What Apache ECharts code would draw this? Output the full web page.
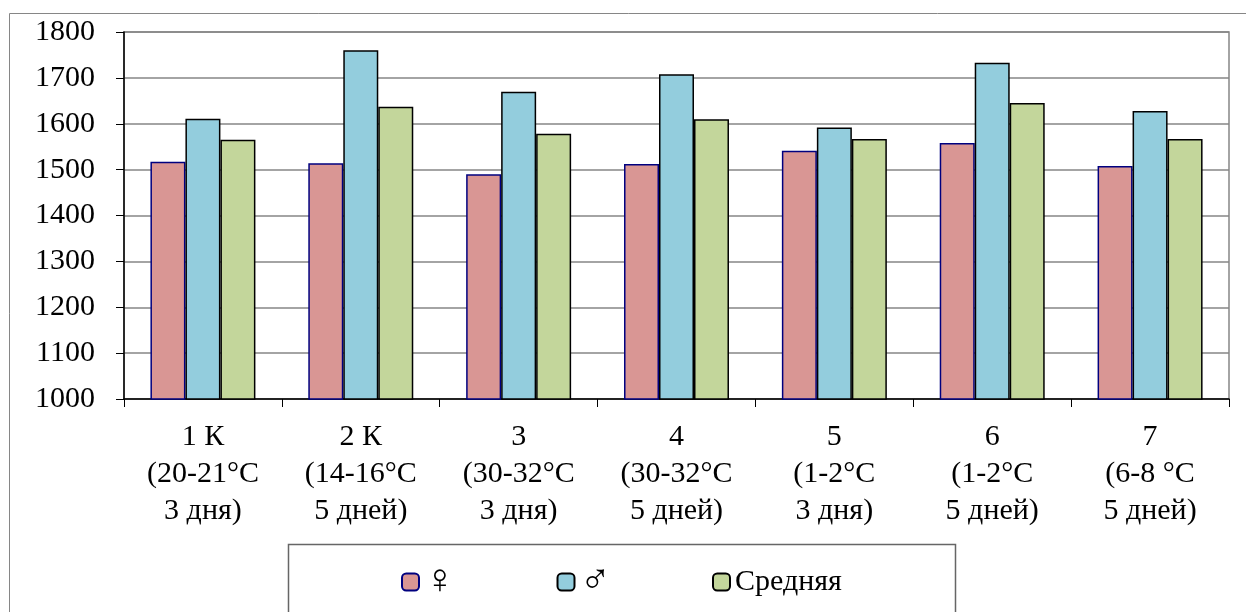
<!DOCTYPE html>
<html>
<head>
<meta charset="utf-8">
<script src="https://cdn.jsdelivr.net/npm/echarts@6/dist/echarts.min.js"></script>
<style>
  html, body { margin: 0; padding: 0; background: #ffffff; }
  #chart { width: 1246px; height: 612px; }
</style>
</head>
<body>
<div id="chart"></div>
<script>
// Groups of experiments (temperature regime and duration)
const categories = [
  '1 К\n(20-21°C\n3 дня)',
  '2 К\n(14-16°C\n5 дней)',
  '3\n(30-32°C\n3 дня)',
  '4\n(30-32°C\n5 дней)',
  '5\n(1-2°C\n3 дня)',
  '6\n(1-2°C\n5 дней)',
  '7\n(6-8 °C\n5 дней)'
];
// Values for females, males and the mean
const femaleValues = [1517, 1514, 1490, 1512, 1541, 1558, 1508];
const maleValues   = [1611, 1760, 1670, 1708, 1592, 1733, 1628];
const meanValues   = [1565, 1637, 1578, 1610, 1567, 1645, 1567];
const seriesNames  = ['♀', '♂', 'Средняя'];
const yTicks = { min: 1000, max: 1800, step: 100 };

const serifFont = 'Liberation Serif';
const symbolFont = 'DejaVu Sans ExtraLight';

// rich-text styles shared by all labels
const richStyles = {
  t: { fontFamily: serifFont, fontSize: 30, lineHeight: 37, color: '#000000' },
  sym: { fontFamily: symbolFont, fontSize: 42, lineHeight: 30, width: 22, color: '#000000' }
};
const wrapLines = s => String(s).split('\n').map(l => '{t|' + l + '}').join('\n');

const chart = echarts.init(document.getElementById('chart'), null, { renderer: 'canvas' });

const barStyle = (fill, stroke) => ({ color: fill, borderColor: stroke, borderWidth: 1.5 });

chart.setOption({
  backgroundColor: '#ffffff',
  animation: false,
  textStyle: { fontFamily: serifFont },
  graphic: [
    // outer chart frame
    { type: 'rect', shape: { x: 9.5, y: 13.5, width: 1240, height: 620 },
      style: { fill: 'none', stroke: '#868686', lineWidth: 1 }, z: -1 },
    // legend frame
    { type: 'rect', shape: { x: 288.5, y: 544.5, width: 667, height: 90 },
      style: { fill: '#ffffff', stroke: '#666666', lineWidth: 1.5 }, z: 0 }
  ],
  grid: { left: 124, right: 17, top: 32, bottom: 213, show: true, borderColor: '#868686', borderWidth: 1.5 },
  legend: {
    data: seriesNames,
    left: 401,
    top: 561,
    padding: 0,
    itemWidth: 17,
    itemHeight: 17,
    itemGap: 101,
    z: 5,
    formatter: name => (name.length === 1 ? '{sym|' + name + '}' : '{t|' + name + '}'),
    textStyle: { fontFamily: serifFont, fontSize: 30, color: '#000000', rich: richStyles }
  },
  xAxis: {
    type: 'category',
    data: categories,
    axisLine: { lineStyle: { color: '#000000', width: 1.5 } },
    axisTick: { show: true, length: 8, lineStyle: { color: '#000000', width: 1 } },
    axisLabel: { fontFamily: serifFont, fontSize: 30, color: '#000000', lineHeight: 37, margin: 20, interval: 0,
      formatter: wrapLines, rich: richStyles },
    splitLine: { show: false }
  },
  yAxis: {
    type: 'value',
    min: yTicks.min,
    max: yTicks.max,
    interval: yTicks.step,
    axisLine: { show: true, lineStyle: { color: '#000000', width: 1.5 } },
    axisTick: { show: true, length: 8, lineStyle: { color: '#000000', width: 1 } },
    axisLabel: { fontFamily: serifFont, fontSize: 30, color: '#000000', margin: 29,
      formatter: v => '{t|' + v + '}', rich: richStyles },
    splitLine: { show: true, lineStyle: { color: '#868686', width: 1.5 } }
  },
  series: [
    { name: seriesNames[0], type: 'bar', data: femaleValues, barGap: '0%', barCategoryGap: '33.5%',
      itemStyle: barStyle('#D99694', '#00007F') },
    { name: seriesNames[1], type: 'bar', data: maleValues, barGap: '0%', barCategoryGap: '33.5%',
      itemStyle: barStyle('#93CDDD', '#000000') },
    { name: seriesNames[2], type: 'bar', data: meanValues, barGap: '0%', barCategoryGap: '33.5%',
      itemStyle: barStyle('#C3D69B', '#000000') }
  ]
});
</script>
</body>
</html>
